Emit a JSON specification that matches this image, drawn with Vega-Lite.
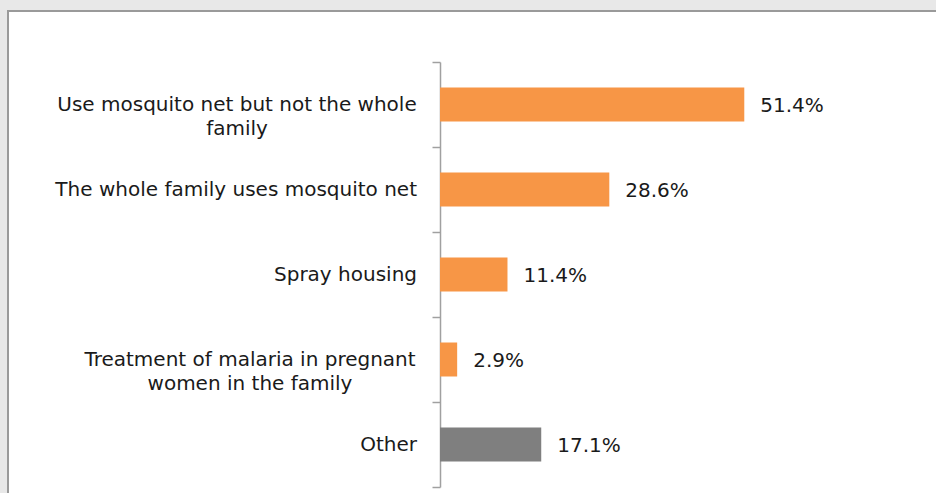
{
  "$schema": "https://vega.github.io/schema/vega-lite/v6.json",
  "width": 940,
  "height": 490,
  "autosize": {"type": "none"},
  "padding": {"left": 8, "top": 11, "right": 0, "bottom": 0},
  "background": "#e8e8e8",
  "config": {"view": {"fill": "white", "stroke": "#9a9a9a", "strokeWidth": 2}},
  "data": {
    "values": [
      {"category": "Use mosquito net but not the whole family", "lines": ["Use mosquito net but not the whole", "family"], "value": 0.514, "kind": "Measure"},
      {"category": "The whole family uses mosquito net", "lines": ["The whole family uses mosquito net"], "value": 0.286, "kind": "Measure"},
      {"category": "Spray housing", "lines": ["Spray housing"], "value": 0.114, "kind": "Measure"},
      {"category": "Treatment of malaria in pregnant women in the family", "lines": ["Treatment of malaria in pregnant", "women in the family"], "value": 0.029, "kind": "Measure"},
      {"category": "Other", "lines": ["Other"], "value": 0.171, "kind": "Other"}
    ]
  },
  "encoding": {
    "y": {
      "field": "category",
      "type": "nominal",
      "sort": null,
      "scale": {"range": [51, 476], "paddingInner": 0, "paddingOuter": 0},
      "axis": {
        "orient": "left",
        "offset": -432,
        "title": null,
        "grid": false,
        "labels": false,
        "tickBand": "extent",
        "tickSize": 8,
        "tickColor": "#a0a0a0",
        "tickWidth": 1.5,
        "domainColor": "#a0a0a0",
        "domainWidth": 1.5
      }
    }
  },
  "layer": [
    {
      "mark": {"type": "bar", "height": {"band": 0.4}},
      "encoding": {
        "x": {"field": "value", "type": "quantitative", "scale": {"domain": [0, 0.6], "range": [432, 787.2], "nice": false, "zero": true}, "axis": null},
        "color": {"field": "kind", "type": "nominal", "scale": {"domain": ["Measure", "Other"], "range": ["#F79646", "#7F7F7F"]}, "legend": null}
      }
    },
    {
      "mark": {"type": "text", "align": "left", "baseline": "middle", "dx": 16, "dy": 1, "font": "DejaVu Sans", "fontSize": 20, "color": "#1a1a1a"},
      "encoding": {
        "x": {"field": "value", "type": "quantitative"},
        "text": {"field": "value", "type": "quantitative", "format": ".1%"}
      }
    },
    {
      "transform": [{"filter": "length(datum.lines) == 1"}],
      "mark": {"type": "text", "align": "right", "baseline": "middle", "dx": -23, "font": "DejaVu Sans", "fontSize": 20, "color": "#1a1a1a"},
      "encoding": {
        "x": {"datum": 0, "type": "quantitative"},
        "text": {"field": "lines"}
      }
    },
    {
      "transform": [{"filter": "datum.category == 'Use mosquito net but not the whole family'"}],
      "mark": {"type": "text", "align": "center", "baseline": "middle", "dx": -203, "lineHeight": 24, "font": "DejaVu Sans", "fontSize": 20, "color": "#1a1a1a"},
      "encoding": {
        "x": {"datum": 0, "type": "quantitative"},
        "text": {"field": "lines"}
      }
    },
    {
      "transform": [{"filter": "datum.category == 'Treatment of malaria in pregnant women in the family'"}],
      "mark": {"type": "text", "align": "center", "baseline": "middle", "dx": -190, "lineHeight": 24, "font": "DejaVu Sans", "fontSize": 20, "color": "#1a1a1a"},
      "encoding": {
        "x": {"datum": 0, "type": "quantitative"},
        "text": {"field": "lines"}
      }
    }
  ]
}
